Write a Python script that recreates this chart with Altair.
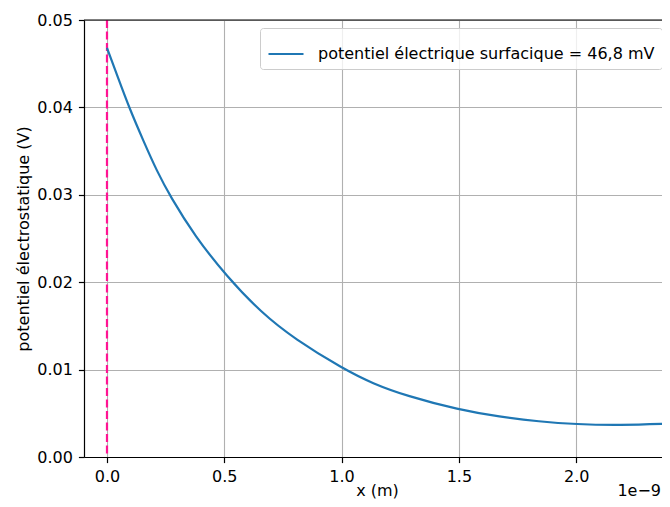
import altair as alt
import pandas as pd

# x in units of 1e-9 m (axis offset text "1e−9")
x_vals = [0.0, 0.047, 0.094, 0.158, 0.213, 0.270, 0.374, 0.509, 0.658, 0.800,
          1.006, 1.133, 1.276, 1.5, 1.673, 1.843, 2.0, 2.185, 2.4]
y_vals = [0.0468, 0.0434, 0.0400, 0.0360, 0.0327, 0.0298, 0.0253, 0.0207, 0.0165, 0.0135,
          0.0101, 0.0084, 0.0070, 0.0054, 0.0046, 0.00405, 0.00374, 0.00363, 0.00382]
legend_label = "potentiel électrique surfacique = 46,8 mV"
x_ticks = [0.0, 0.5, 1.0, 1.5, 2.0]
y_ticks = [0.0, 0.01, 0.02, 0.03, 0.04, 0.05]
x_domain = [-0.098, 2.4]
y_domain = [0.0, 0.05]
vline_x = [0.0]
offset_text = ["1e\u22129"]

W, H = 586, 437
FONT = "DejaVu Sans"
FS = 16

df = pd.DataFrame({"x": x_vals, "y": y_vals, "serie": [legend_label] * len(x_vals)})

common_axis = dict(
    grid=True, gridColor="#b0b0b0", gridWidth=1.1,
    domainColor="black", domainWidth=1.2,
    tickColor="black", tickSize=5.6, tickWidth=1.2,
    labelFontSize=FS, labelFont=FONT, labelColor="black", labelPadding=6,
    labelFlush=False, labelOverlap=False,
    titleFontSize=FS, titleFont=FONT, titleFontWeight="normal", titleColor="black",
)

xenc = alt.X("x:Q", scale=alt.Scale(domain=x_domain, nice=False, zero=False),
             axis=alt.Axis(values=x_ticks, format=".1f", title="x (m)", titlePadding=-2, **common_axis))
yenc = alt.Y("y:Q", scale=alt.Scale(domain=y_domain, nice=False, zero=False),
             axis=alt.Axis(values=y_ticks, format=".2f", title="potentiel électrostatique (V)",
                           titlePadding=5, **common_axis))

line = alt.Chart(df).mark_line(strokeWidth=2.2, interpolate="basis", clip=True).encode(
    x=xenc, y=yenc,
    color=alt.Color("serie:N", scale=alt.Scale(domain=[legend_label], range=["#1f77b4"]),
                    legend=alt.Legend(title=None, orient="top-right", offset=8,
                                      symbolType="stroke", symbolSize=1225, symbolStrokeWidth=2.2,
                                      labelFontSize=FS, labelFont=FONT, labelColor="black",
                                      labelLimit=0, labelOffset=13, padding=7,
                                      strokeColor="#cccccc", fillColor="rgba(255,255,255,0.8)",
                                      cornerRadius=3)),
)

vline = alt.Chart(pd.DataFrame({"x": vline_x})).mark_rule(
    color="#ff1493", strokeDash=[8, 3.5], strokeWidth=2.2
).encode(x=alt.X("x:Q"))

top_spine = alt.Chart(pd.DataFrame({"a": [0]})).mark_rule(color="black", strokeWidth=1.2).encode(
    x=alt.value(0), x2=alt.value(W), y=alt.value(0)
)

offset = alt.Chart(pd.DataFrame({"t": offset_text})).mark_text(
    align="right", baseline="middle", fontSize=FS, font=FONT, color="black"
).encode(text="t:N", x=alt.value(W - 9), y=alt.value(H + 34))

chart = alt.layer(vline, line, top_spine, offset).properties(
    width=W, height=H,
    padding={"left": 76, "top": 12, "right": -8, "bottom": 42},
    autosize="none",
).configure_view(stroke=None)

chart.save("out.html", embed_options={"renderer": "svg", "actions": False})
